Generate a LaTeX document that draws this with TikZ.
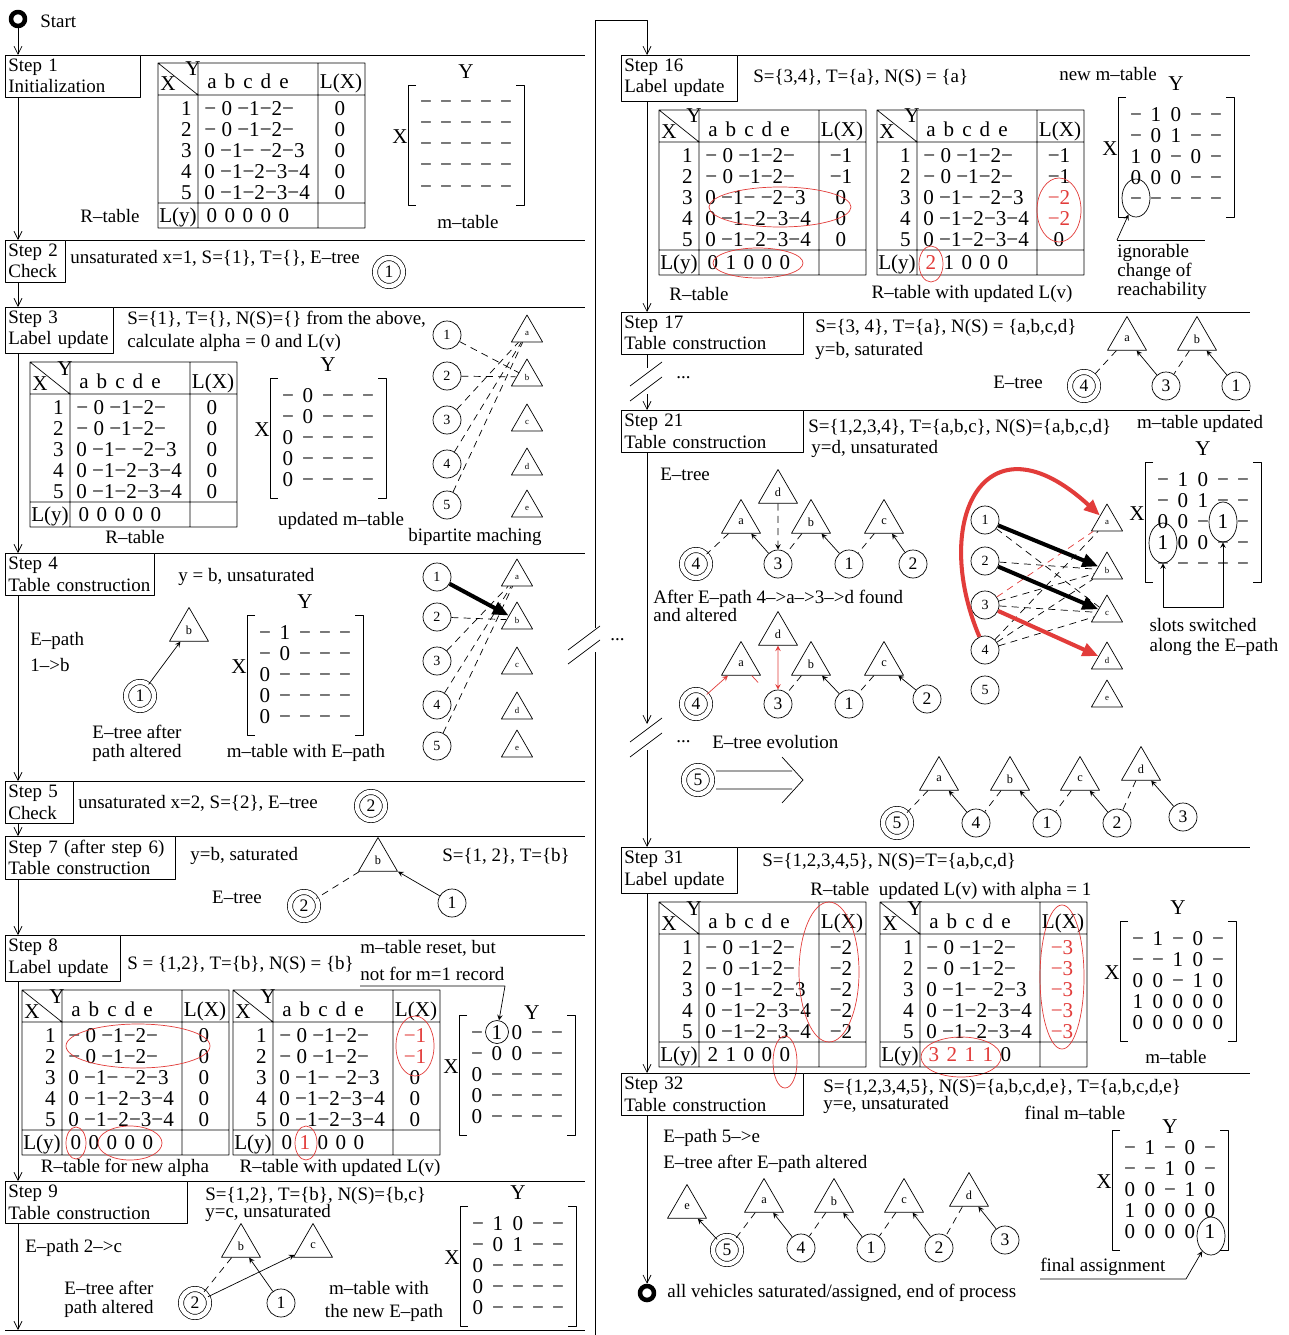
\documentclass[tikz,border=0pt]{standalone}
\usepackage{fontspec}
\setmainfont{Liberation Serif}
\usetikzlibrary{shapes.geometric,arrows.meta}
\definecolor{mred}{RGB}{226,60,58}
\newcommand{\tabfont}{\fontsize{12}{14}\selectfont}
\newcommand{\rd}[1]{\textcolor{mred}{#1}}
% R-table: name, top left corner, L(X) column, L(y) row
\newcommand{\rtab}[4]{%
\begin{scope}[shift={#2},font=\tabfont,every node/.append style={inner sep=0}]
 \draw (0,0) rectangle (207,165) (0,32) -- (207,32) (0,140) -- (207,140)
  (40,0) -- (40,165) (160,0) -- (160,165) (0,0) -- (40,32);
 \node[anchor=base] (#1hx) at (10,28) {X};
 \node[anchor=base] (#1hy) at (35,13) {Y};
 \foreach \hd [count=\jj from 0] in {a,b,c,d,e}
  \node[anchor=base] (#1h\hd) at (54+18*\jj,26) {\hd};
 \node[anchor=base] (#1hl) at (183,26) {L(X)};
 \foreach \rw [count=\nn] in {{− 0 −1−2−},{− 0 −1−2−},{0 −1− −2−3},{0 −1−2−3−4},{0 −1−2−3−4}}{
  \node[anchor=base east] (#1n\nn) at (34,31+21*\nn) {\nn};
  \node[anchor=base west] (#1r\nn) at (46,31+21*\nn) {\rw};}
 \foreach \vv [count=\nn] in {#3}
  \node[anchor=base] (#1x\nn) at (182,31+21*\nn) {\vv};
 \node[anchor=base] (#1ly) at (20,159) {L(y)};
 \foreach \vv [count=\jj from 0] in {#4}
  \node[anchor=base] (#1y\jj) at (54+18*\jj,159) {\vv};
\end{scope}}
% m-table: [place of Y], name, centre, rows
\newcommand{\mtab}[4][(0,-73)]{%
\begin{scope}[shift={#3},font=\tabfont]
 \draw (-50,-60) -- (-58,-60) -- (-58,60) -- (-50,60) (50,-60) -- (58,-60) -- (58,60) -- (50,60);
 \node[inner sep=0] (#2Y) at #1 {Y};
 \node[inner sep=0] (#2X) at (-66,-8) {X};
 \foreach \rw [count=\ii from 0] in {#4}
  \foreach \vv [count=\jj from 0] in \rw
   \node[inner sep=0,anchor=base] (#2e\ii\jj) at (-40+20*\jj,-36+21*\ii) {\vv};
\end{scope}}
% bipartite graph: name, x of X side, x of Y side, ys, ys/labels
\newcommand{\bip}[5]{%
 \foreach \y [count=\nn] in {#4} \node[bvx] (#1-\nn) at (#2,\y) {\nn};
 \foreach \y/\lb in {#5} \node[btri] (#1-\lb) at (#3,\y) {\lb};}

\begin{document}
\begin{tikzpicture}[x=0.02cm,y=-0.02cm,>=stealth,line join=round,
 font=\fontsize{10.8}{12}\selectfont,
 stepbox/.style={draw,anchor=north west,align=left,inner xsep=0.06cm,inner ysep=0.08cm},
 txt/.style={anchor=west,inner sep=0},
 capt/.style={inner sep=0},
 vx/.style={circle,draw,minimum size=0.56cm,inner sep=0,font=\fontsize{10}{10}\selectfont},
 bvx/.style={vx,font=\fontsize{8}{8}\selectfont},
 root/.style={vx,double,double distance=2.6pt},
 tri/.style={regular polygon,regular polygon sides=3,draw,minimum size=0.9cm,inner sep=0,font=\fontsize{7}{7}\selectfont},
 btri/.style={tri,minimum size=0.72cm,font=\fontsize{5}{5}\selectfont},
 dsh/.style={dash pattern=on 4pt off 3pt},
 fat/.style={line width=2.3pt,-{Triangle[length=0.32cm,width=0.26cm]}},
 flow/.style={-{Straight Barb[length=0.16cm,width=0.16cm]}},
 ring/.style={circle,draw,line width=2.6pt,minimum size=0.28cm,inner sep=0},
 oval/.style={ellipse,draw,inner sep=0,minimum width=0.56cm,minimum height=0.76cm}]
\useasboundingbox[fill=white] (0,0) rectangle (1288,1335);
\coordinate (fl) at (18,0); \coordinate (fr) at (647,0);
\coordinate (eL) at (585,0); \coordinate (eR) at (1250,0);

\node[ring] (start) at (18,19) {};
\node[txt] (startT) at (40,21) {Start};

% Step 1
\node[stepbox,text width=2.58cm] (st1) at (5,55) {Step 1\\Initialization};
\rtab{r1}{(158,63)}{0,0,0,0,0}{0,0,0,0,0}
\node[capt] (r1c) at (110,216) {R–table};
\mtab{m1}{(466,145)}{{−,−,−,−,−},{−,−,−,−,−},{−,−,−,−,−},{−,−,−,−,−},{−,−,−,−,−}}
\node[capt] (m1c) at (468,222) {m–table};

% Step 2
\node[stepbox,text width=1.08cm] (st2) at (5,240) {Step 2\\Check};
\node[txt] (st2t) at (70,258) {unsaturated x=1, S=\{1\}, T=\{\}, E–tree};
\node[root] (e2r) at (389,272) {1};

% Step 3
\node[stepbox,text width=2.04cm] (st3) at (5,307) {Step 3\\Label update};
\node[txt] (st3a) at (127,320) {S=\{1\}, T=\{\}, N(S)=\{\} from the above,};
\node[txt] (st3b) at (127,343) {calculate alpha = 0 and L(v)};
\rtab{r3}{(30,362)}{0,0,0,0,0}{0,0,0,0,0}
\node[capt] (r3c) at (135,537) {R–table};
\mtab{m3}{(328,438)}{{−,0,−,−,−},{−,0,−,−,−},{0,−,−,−,−},{0,−,−,−,−},{0,−,−,−,−}}
\node[capt] (m3c) at (341,521) {updated m–table};
\bip{p3}{447}{527}{335,376,420,464,505}{333/a,377/b,422/c,466/d,508/e}
\foreach \uu/\vv in {1/b,2/b,3/a,4/a,5/a} \draw[dsh] (p3-\uu) -- (p3-\vv);
\node[capt] (p3c) at (475,537) {bipartite maching};

% Step 4
\node[stepbox,text width=2.86cm] (st4) at (5,553) {Step 4\\Table construction};
\node[txt] (st4a) at (178,577) {y = b, unsaturated};
\node[txt] (st4b) at (30,641) {E–path};
\node[txt] (st4c) at (30,665) {1–>b};
\node[tri] (t4b) at (189,630) {b};
\node[root] (t4r) at (140,696) {1};
\draw[->] (t4r) -- (t4b);
\node[capt] (t4c1) at (137,732) {E–tree after};
\node[capt] (t4c2) at (137,753) {path altered};
\mtab{m4}{(305,675)}{{−,1,−,−,−},{−,0,−,−,−},{0,−,−,−,−},{0,−,−,−,−},{0,−,−,−,−}}
\node[capt] (m4c) at (306,753) {m–table with E–path};
\bip{p4}{437}{517}{577,617,661,705,746}{577/a,620/b,665/c,710/d,748/e}
\foreach \uu/\vv in {2/b,3/a,4/a,5/a} \draw[dsh] (p4-\uu) -- (p4-\vv);
\draw[fat] (p4-1) -- (p4-b);

% Step 5
\node[stepbox,text width=1.24cm] (st5) at (5,781) {Step 5\\Check};
\node[txt] (st5t) at (78,803) {unsaturated x=2, S=\{2\}, E–tree};
\node[root] (e5r) at (371,806) {2};

% Step 7
\node[stepbox,text width=3.28cm] (st7) at (5,836) {Step 7 (after step 6)\\Table construction};
\node[txt] (st7a) at (190,856) {y=b, saturated};
\node[txt] (st7b) at (442,856) {S=\{1, 2\}, T=\{b\}};
\node[capt] (st7c) at (237,897) {E–tree};
\node[tri] (t7b) at (378,860) {b};
\node[root] (t7r) at (304,906) {2};
\node[vx] (t7c1) at (452,903) {1};
\draw[dsh] (t7b) -- (t7r);
\draw[->] (t7c1) -- (t7b);

% Step 8
\node[stepbox,text width=2.18cm] (st8) at (5,935) {Step 8\\Label update};
\node[txt] (st8a) at (127,965) {S = \{1,2\}, T=\{b\}, N(S) = \{b\}};
\node[txt] (st8b) at (360,948) {m–table reset, but};
\node[txt] (st8c) at (360,974) {not for m=1 record};
\rtab{r8}{(22,990)}{0,0,0,0,0}{0,0,0,0,0}
\rtab{q8}{(233,990)}{\rd{−1},\rd{−1},0,0,0}{0,\rd{1},0,0,0}
\draw[mred] (138,1046) ellipse (72 and 22) (76,1143) ellipse (10 and 16) (130,1143) ellipse (32 and 17)
 (415,1046) ellipse (19 and 30) (306,1143) ellipse (11 and 17);
\node[capt] (r8c) at (125,1168) {R–table for new alpha};
\node[capt] (q8c) at (340,1168) {R–table with updated L(v)};
\mtab[(15,-62)]{m8}{(517,1075)}{{−,1,0,−,−},{−,0,0,−,−},{0,−,−,−,−},{0,−,−,−,−},{0,−,−,−,−}}
\node[circle,draw,minimum size=0.46cm,inner sep=0] (m8o) at (497,1032) {};
\coordinate (u8a) at (360,986); \coordinate (u8b) at (505,986);
\draw[->] (u8a) -- (u8b) -- (m8o);

% Step 9
\node[stepbox,text width=3.52cm] (st9) at (5,1181) {Step 9\\Table construction};
\node[txt] (st9a) at (205,1196) {S=\{1,2\}, T=\{b\}, N(S)=\{b,c\}};
\node[txt] (st9b) at (205,1213) {y=c, unsaturated};
\node[txt] (st9c) at (25,1248) {E–path 2–>c};
\node[tri] (t9b) at (241,1246) {b};
\node[tri] (t9c) at (313,1246) {c};
\node[root] (t9r) at (195,1303) {2};
\node[vx] (t9c1) at (281,1303) {1};
\draw[dsh] (t9b) -- (t9r);
\draw[->] (t9r) -- (t9c);
\draw[->] (t9c1) -- (t9b);
\node[capt] (t9d1) at (109,1288) {E–tree after};
\node[capt] (t9d2) at (109,1309) {path altered};
\mtab{m9}{(518,1266)}{{−,1,0,−,−},{−,0,1,−,−},{0,−,−,−,−},{0,−,−,−,−},{0,−,−,−,−}}
\node[capt] (m9c1) at (379,1288) {m–table with};
\node[capt] (m9c2) at (384,1313) {the new E–path};

% Step 16
\node[stepbox,text width=2.2cm] (st16) at (621,55) {Step 16\\Label update};
\node[txt] (st16a) at (753,78) {S=\{3,4\}, T=\{a\}, N(S) = \{a\}};
\node[capt] (st16b) at (1108,74) {new m–table};
\rtab{r16}{(659,110)}{−1,−1,0,0,0}{0,1,0,0,0}
\rtab{q16}{(877,110)}{−1,−1,\rd{−2},\rd{−2},0}{\rd{2},1,0,0,0}
\draw[mred] (780,207) ellipse (71 and 20) (758,263) ellipse (45 and 15)
 (1059,210) ellipse (22 and 32) (931,264) ellipse (12 and 18);
\node[capt] (r16c) at (699,294) {R–table};
\node[capt] (q16c) at (972,294) {R–table with updated L(v)};
\mtab{m16}{(1176,157)}{{−,1,0,−,−},{−,0,1,−,−},{1,0,−,0,−},{0,0,0,−,−},{−,−,−,−,−}}
\node[oval] (m16o) at (1136,198) {};
\coordinate (u16a) at (1117,240); \coordinate (u16b) at (1205,240);
\draw[->] (u16a) -- (m16o);
\draw (u16a) -- (u16b);
\node[txt,anchor=north west,align=left,font=\fontsize{10.8}{8.6}\selectfont] (st16c) at (1117,244) {ignorable\\change of\\reachability};

% Step 17
\node[stepbox,text width=3.52cm] (st17) at (621,312) {Step 17\\Table construction};
\node[txt] (st17a) at (815,328) {S=\{3, 4\}, T=\{a\}, N(S) = \{a,b,c,d\}};
\node[txt] (st17b) at (815,351) {y=b, saturated};
\node[tri] (t17a) at (1127,339) {a};
\node[tri] (t17b) at (1197,339) {b};
\node[capt] (st17c) at (1018,382) {E–tree};
\node[root] (t17r) at (1084,386) {4};
\node[vx] (t17c3) at (1166,386) {3};
\node[vx] (t17c1) at (1236,386) {1};
\draw[dsh] (t17a) -- (t17r); \draw[->] (t17c3) -- (t17a);
\draw[dsh] (t17b) -- (t17c3); \draw[->] (t17c1) -- (t17b);
\draw (630,386) -- (662,362) (630,401) -- (662,377);
\node[txt] (dots1) at (676,378) {...};

% Step 21
\node[stepbox,text width=3.52cm] (st21) at (621,410) {Step 21\\Table construction};
\node[txt] (st21a) at (808,428) {S=\{1,2,3,4\}, T=\{a,b,c\}, N(S)=\{a,b,c,d\}};
\node[txt] (st21b) at (811,449) {y=d, unsaturated};
\node[capt] (st21c) at (1200,424) {m–table updated};
\node[txt] (st21d) at (660,474) {E–tree};
\node[tri] (u21d) at (778,492) {d};
\node[tri] (u21a) at (741,522) {a};
\node[tri] (u21b) at (811,522) {b};
\node[tri] (u21c) at (884,522) {c};
\node[root] (u21r) at (696,564) {4};
\node[vx] (u213) at (778,564) {3};
\node[vx] (u211) at (849,564) {1};
\node[vx] (u212) at (913,564) {2};
\draw[dsh] (u21a) -- (u21r); \draw[->] (u213) -- (u21a); \draw[dsh,->] (u21d) -- (u213);
\draw[dsh] (u21b) -- (u213); \draw[->] (u211) -- (u21b);
\draw[dsh] (u21c) -- (u211); \draw[->] (u212) -- (u21c);
\node[txt] (st21e) at (653,599) {After E–path 4–>a–>3–>d found};
\node[txt] (st21f) at (653,615) {and altered};
\node[tri] (w21d) at (778,634) {d};
\node[tri] (w21a) at (741,664) {a};
\node[tri] (w21b) at (811,664) {b};
\node[tri] (w21c) at (884,664) {c};
\node[root] (w21r) at (696,704) {4};
\node[vx] (w213) at (778,704) {3};
\node[vx] (w211) at (849,704) {1};
\node[vx] (w212) at (927,699) {2};
\draw[mred,->] (w21r) -- (w21a);
\draw[mred,shorten >=0.3cm] (w21a) -- (w213);
\draw[mred,<->] (w21d) -- (w213);
\draw[dsh] (w21b) -- (w213); \draw[->] (w211) -- (w21b);
\draw[dsh] (w21c) -- (w211); \draw[->] (w212) -- (w21c);
\bip{p21}{985}{1107}{520,561,605,650,690}{522/a,570/b,613/c,660/d,698/e}
\foreach \uu/\vv in {1/c,2/b,3/b,3/c,4/a,4/b,4/c} \draw[dsh] (p21-\uu) -- (p21-\vv);
\draw[dsh,mred] (p21-3) -- (p21-a);
\draw[fat] (p21-1) -- (p21-b);
\draw[fat] (p21-2) -- (p21-c);
\draw[fat,mred] (p21-3) -- (p21-d);
\draw[fat,mred] (p21-4) .. controls (930,520) and (985,410) .. (p21-a);
\mtab{m21}{(1203,522)}{{−,1,0,−,−},{−,0,1,−,−},{0,0,−,1,−},{1,0,0,−,−},{−,−,−,−,−}}
\node[oval,minimum height=0.8cm] (m21l) at (1163,543) {};
\node[oval,minimum height=0.8cm] (m21r) at (1223,522) {};
\coordinate (lp) at (0,607);
\draw[<->] (m21l) -- (m21l |- lp) -- (m21r |- lp) -- (m21r);
\node[capt] (st21g) at (1203,625) {slots switched};
\node[capt] (st21h) at (1214,647) {along the E–path};

% E-tree evolution
\draw (630,742) -- (662,718) (630,757) -- (662,733);
\node[txt] (dots2) at (676,742) {...};
\node[txt] (st21i) at (712,742) {E–tree evolution};
\node[root] (v5) at (698,780) {5};
\draw (716,771) -- (792,771) (716,789) -- (792,789) (782,757) -- (803,780) -- (782,803);
\node[tri] (va) at (939,779) {a};
\node[tri] (vb) at (1010,779) {b};
\node[tri] (vc) at (1080,779) {c};
\node[tri] (vd) at (1141,769) {d};
\node[root] (v5r) at (897,823) {5};
\node[vx] (v4) at (976,823) {4};
\node[vx] (v1) at (1047,823) {1};
\node[vx] (v2) at (1117,823) {2};
\node[vx] (v3) at (1183,817) {3};
\draw[dsh] (va) -- (v5r); \draw[->] (v4) -- (va);
\draw[dsh] (vb) -- (v4); \draw[->] (v1) -- (vb);
\draw[dsh] (vc) -- (v1); \draw[->] (v2) -- (vc);
\draw[dsh] (vd) -- (v2); \draw[->] (v3) -- (vd);

% Step 31
\node[stepbox,text width=2.2cm] (st31) at (621,847) {Step 31\\Label update};
\node[txt] (st31a) at (762,862) {S=\{1,2,3,4,5\}, N(S)=T=\{a,b,c,d\}};
\node[txt] (st31b) at (810,891) {R–table\ \ updated L(v) with alpha = 1};
\rtab{r31}{(659,902)}{−2,−2,−2,−2,−2}{2,1,0,0,0}
\rtab{q31}{(880,902)}{\rd{−3},\rd{−3},\rd{−3},\rd{−3},\rd{−3}}{\rd{3},\rd{2},\rd{1},\rd{1},0}
\draw[mred] (829,972) ellipse (30 and 70) (785,1062) ellipse (12 and 26)
 (1062,977) ellipse (22 and 72) (961,1057) ellipse (40 and 20);
\mtab{m31}{(1178,981)}{{−,1,−,0,−},{−,−,1,0,−},{0,0,−,1,0},{1,0,0,0,0},{0,0,0,0,0}}
\node[capt] (m31c) at (1176,1057) {m–table};

% Step 32
\node[stepbox,text width=3.52cm] (st32) at (621,1073) {Step 32\\Table construction};
\node[txt] (st32a) at (823,1088) {S=\{1,2,3,4,5\}, N(S)=\{a,b,c,d,e\}, T=\{a,b,c,d,e\}};
\node[txt] (st32b) at (823,1105) {y=e, unsaturated};
\node[capt] (st32c) at (1075,1113) {final m–table};
\node[txt] (st32d) at (663,1138) {E–path 5–>e};
\node[txt] (st32e) at (663,1164) {E–tree after E–path altered};
\node[tri] (x32e) at (687,1207) {e};
\node[tri] (x32a) at (764,1201) {a};
\node[tri] (x32b) at (834,1201) {b};
\node[tri] (x32c) at (904,1201) {c};
\node[tri] (x32d) at (969,1195) {d};
\node[root] (x325) at (727,1250) {5};
\node[vx] (x324) at (801,1248) {4};
\node[vx] (x321) at (871,1248) {1};
\node[vx] (x322) at (939,1248) {2};
\node[vx] (x323) at (1005,1240) {3};
\draw[->] (x325) -- (x32e);
\draw[dsh] (x32a) -- (x325); \draw[->] (x324) -- (x32a);
\draw[dsh] (x32b) -- (x324); \draw[->] (x321) -- (x32b);
\draw[dsh] (x32c) -- (x321); \draw[->] (x322) -- (x32c);
\draw[dsh] (x32d) -- (x322); \draw[->] (x323) -- (x32d);
\mtab[(0,-63)]{m32}{(1170,1190)}{{−,1,−,0,−},{−,−,1,0,−},{0,0,−,1,0},{1,0,0,0,0},{0,0,0,0,1}}
\node[oval] (m32o) at (1211,1236) {};
\coordinate (u32a) at (1040,1279); \coordinate (u32b) at (1186,1279);
\draw[->] (u32a) -- (u32b) -- (m32o);
\node[txt] (st32f) at (1040,1267) {final assignment};

\node[ring] (endR) at (647,1293) {};
\node[txt] (endT) at (667,1293) {all vehicles saturated/assigned, end of process};

% left flow line and rules
\coordinate (endL) at (18,1330); \coordinate (botL) at (5,1330);
\draw[flow] (start) -- (st1.north -| fl);
\draw[flow] (st1.south -| fl) -- (st2.north -| fl);
\draw[flow] (st2.south -| fl) -- (st3.north -| fl);
\draw[flow] (st3.south -| fl) -- (st4.north -| fl);
\draw[flow] (st4.south -| fl) -- (st5.north -| fl);
\draw[flow] (st5.south -| fl) -- (st7.north -| fl);
\draw[flow] (st7.south -| fl) -- (st8.north -| fl);
\draw[flow] (st8.south -| fl) -- (st9.north -| fl);
\draw[flow] (st9.south -| fl) -- (endL);
\foreach \s in {st1,st2,st3,st4,st5,st7,st8,st9} \draw (\s.north east) -- (\s.north east -| eL);
\draw (botL) -- (botL -| eL);

% joint between the columns
\coordinate (j1) at (595,1335); \coordinate (j2) at (595,652);
\coordinate (j3) at (595,628); \coordinate (j4) at (595,20); \coordinate (j5) at (647,20);
\draw (j1) -- (j2);
\draw[flow] (j3) -- (j4) -- (j5) -- (st16.north -| fr);
\draw (568,650) -- (600,626) (568,664) -- (600,640);
\node[txt] (dots0) at (610,640) {...};

% right flow line and rules
\coordinate (b1a) at (647,368); \coordinate (b1b) at (647,394);
\coordinate (b2a) at (647,724); \coordinate (b2b) at (647,750);
\draw[flow] (st16.south -| fr) -- (st17.north -| fr);
\draw (st17.south -| fr) -- (b1a);
\draw[flow] (b1b) -- (st21.north -| fr);
\draw[flow] (st21.south -| fr) -- (b2a);
\draw[flow] (b2b) -- (st31.north -| fr);
\draw[flow] (st31.south -| fr) -- (st32.north -| fr);
\draw[flow] (st32.south -| fr) -- (endR);
\foreach \s in {st16,st17,st21,st31,st32} \draw (\s.north east) -- (\s.north east -| eR);
\end{tikzpicture}
\end{document}
